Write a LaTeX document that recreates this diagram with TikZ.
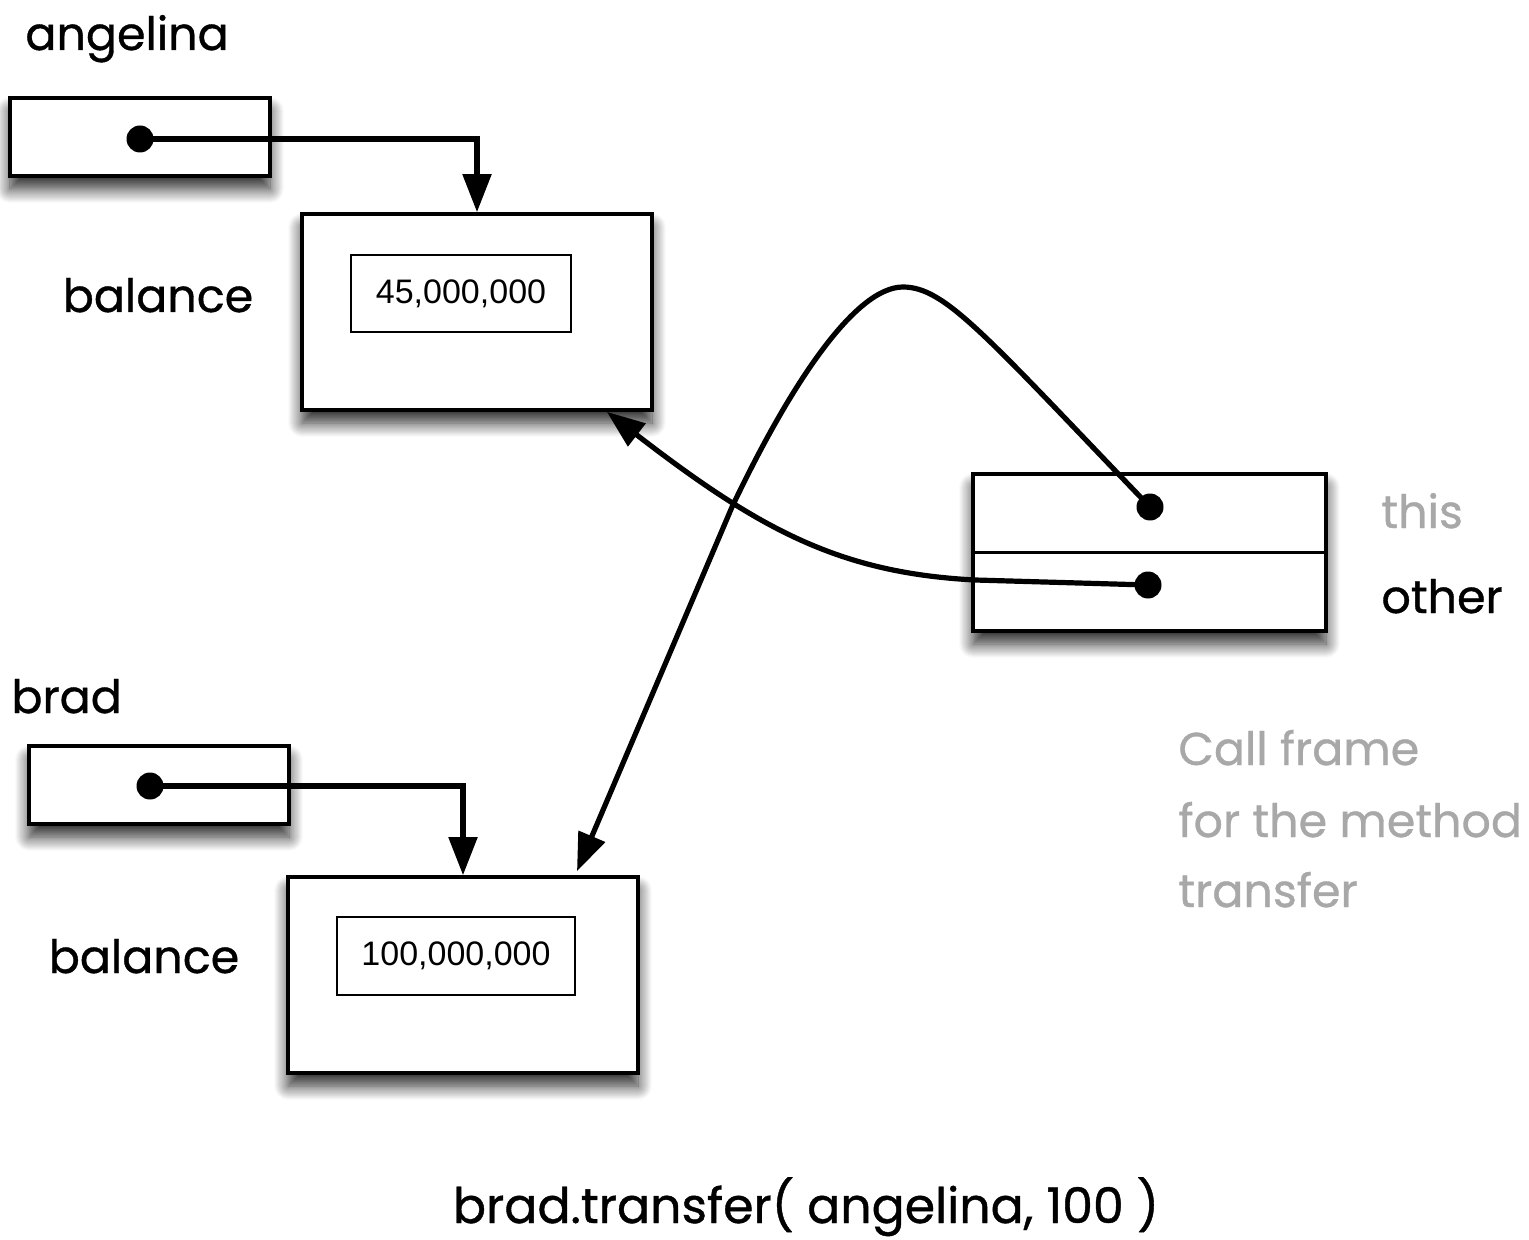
\documentclass[tikz,border=0pt]{standalone}
\usepackage{fontspec}
\setmainfont{Poppins}[FakeBold=0.8]
\newfontfamily\numfont{Liberation Sans}
\usetikzlibrary{arrows.meta,shadows.blur}
\definecolor{lightgraytext}{RGB}{168,168,168}
\tikzset{
  shadowed/.style={blur shadow={shadow xshift=0pt, shadow yshift=-6.5pt, shadow blur radius=7pt, shadow blur steps=14, shadow opacity=85}},
  varbox/.style={draw=black, line width=1.8pt, fill=white, shadowed, minimum width=130pt, minimum height=39pt, inner sep=0pt},
  objbox/.style={draw=black, line width=1.8pt, fill=white, shadowed, minimum width=175pt, minimum height=98pt, inner sep=0pt},
  valbox/.style={draw=black, line width=1.1pt, fill=white, minimum height=38.5pt, inner sep=0pt, font=\numfont\fontsize{17}{20}\selectfont},
  dot/.style={circle, fill=black, minimum size=13.5pt, inner sep=0pt},
  ptr/.style={line width=2.6pt, -{Triangle[length=19pt, width=14pt]}},
  lbl/.style={inner sep=0pt, font=\fontsize{23}{28}\selectfont},
  graylbl/.style={lbl, text=lightgraytext}
}
\begin{document}
\begin{tikzpicture}[x=0.5pt, y=-0.5pt]
\useasboundingbox (0,0) rectangle (1529,1240);
% labels
\node[lbl, anchor=base west] (angelinalbl) at (25,50) {angelina};
\node[lbl, anchor=base] (balance1lbl) at (158,312) {balance};
\node[lbl, anchor=base west] (bradlbl) at (11,713) {brad};
\node[lbl, anchor=base] (balance2lbl) at (144,973) {balance};
\node[graylbl, anchor=base west] (thislbl) at (1381,528) {this};
\node[lbl, anchor=base west] (otherlbl) at (1381,613) {other};
\node[graylbl, anchor=base west] (cf1) at (1178,765) {Call frame};
\node[graylbl, anchor=base west] (cf2) at (1178,837) {for the method};
\node[graylbl, anchor=base west] (cf3) at (1178,907) {transfer};
\node[lbl, anchor=base, font=\fontsize{24.5}{29}\selectfont] (calllbl) at (806,1223) {brad.transfer( angelina, 100 )};
% boxes
\node[varbox] (angbox) at (140,137) {};
\node[objbox] (obj1) at (477,312) {};
\node[valbox, minimum width=110pt] (val1) at (461,293.5) {45,000,000};
\node[varbox] (bradbox) at (159,785) {};
\node[objbox] (obj2) at (463,975) {};
\node[valbox, minimum width=119pt, minimum height=39pt] (val2) at (456,956) {100,000,000};
\node[draw=black, line width=1.8pt, fill=white, shadowed, minimum width=176.5pt, minimum height=78.5pt, inner sep=0pt] (frame) at (1149.5,552.5) {};
\draw[line width=1.8pt] (frame.west) -- (frame.east);
% dots
\node[dot] (angdot) at (140,139) {};
\node[dot] (braddot) at (150,786) {};
\node[dot] (thisdot) at (1150,507) {};
\node[dot] (otherdot) at (1148,585) {};
% pointers
\draw[ptr] (angdot.center) -| (obj1.north);
\draw[ptr] (braddot.center) -| (obj2.north);
\draw[ptr] (thisdot.center) .. controls (985,335) and (945,287) .. (903,287)
  .. controls (855,287) and (790,385) .. (732,507) -- ([xshift=57pt,yshift=2pt]obj2.north);
\draw[ptr] (otherdot.center) -- (975,580) .. controls (840,573) and (760,530) .. ([xshift=-23.5pt]obj1.south east);
\end{tikzpicture}
\end{document}
